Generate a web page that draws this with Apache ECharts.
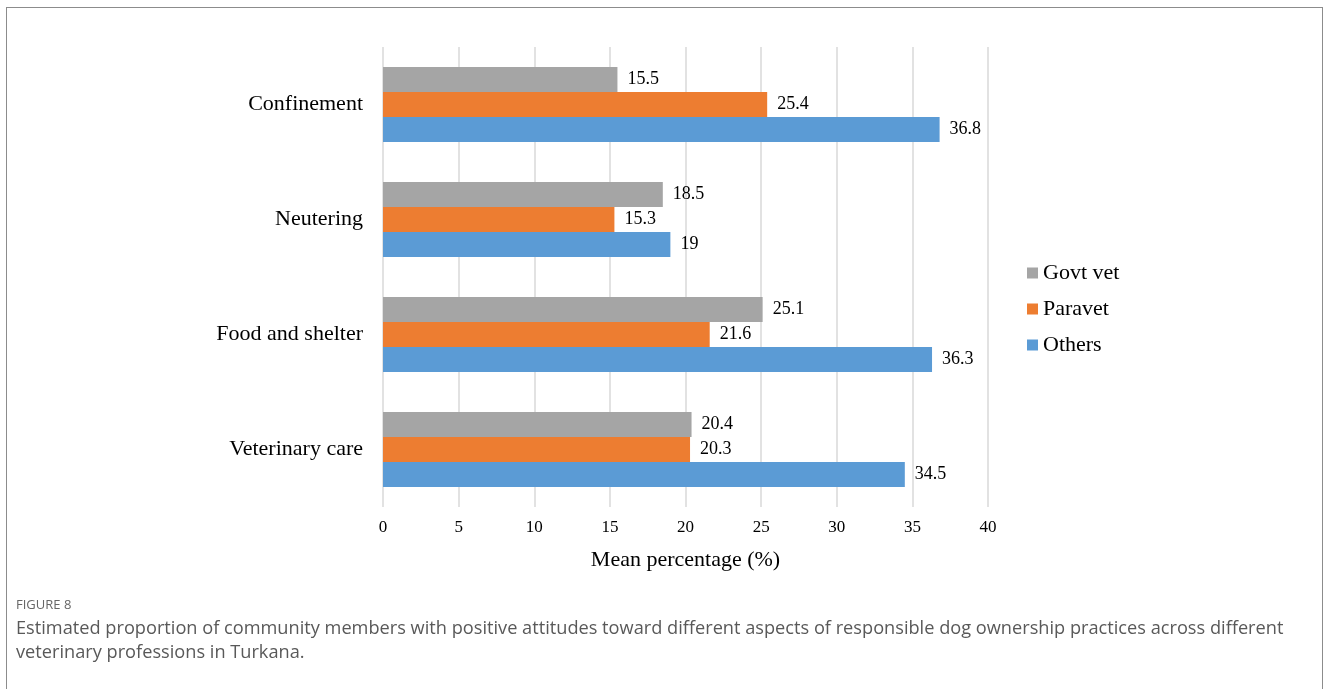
<!DOCTYPE html>
<html>
<head>
<meta charset="utf-8">
<script src="https://cdn.jsdelivr.net/npm/echarts@6/dist/echarts.min.js"></script>
<style>
  html, body { margin: 0; padding: 0; background: #fff; }
  #frame {
    position: absolute; left: 6px; top: 7px; width: 1317px; height: 690px;
    border: 1.5px solid #8c8c8c; border-bottom: none; box-sizing: border-box;
  }
  #chart { position: absolute; left: 0; top: 0; width: 1330px; height: 689px; }
</style>
</head>
<body>
<div id="frame"></div>
<div id="chart"></div>
<script>
// categories top to bottom
const categories = ['Confinement', 'Neutering', 'Food and shelter', 'Veterinary care']
const govtVet = [15.5, 18.5, 25.1, 20.4]
const paravet = [25.4, 15.3, 21.6, 20.3]
const others = [36.8, 19, 36.3, 34.5]
const seriesNames = ['Govt vet', 'Paravet', 'Others']
const colors = ['#a5a5a5', '#ed7d31', '#5b9bd5']

const serif = '"Liberation Serif", "Times New Roman", serif'

const myChart = echarts.init(document.getElementById('chart'))

const seriesList = [govtVet, paravet, others].map(function (vals, i) {
  return {
    name: seriesNames[i],
    type: 'bar',
    data: vals,
    barWidth: 25,
    barGap: '0%',
    itemStyle: { color: colors[i] },
    label: {
      show: true,
      position: 'right',
      distance: 10,
      fontFamily: serif,
      fontSize: 18,
      color: '#000'
    }
  }
})

const option = {
  animation: false,
  textStyle: { fontFamily: serif },
  grid: { left: 383, right: 342, top: 47, bottom: 182 },
  legend: {
    orient: 'vertical',
    left: 1022,
    top: 257,
    itemWidth: 11,
    itemHeight: 11,
    itemGap: 14,
    icon: 'rect',
    textStyle: { fontFamily: serif, fontSize: 22, color: '#000' },
    data: seriesNames
  },
  xAxis: {
    type: 'value',
    min: 0,
    max: 40,
    interval: 5,
    name: 'Mean percentage (%)',
    nameLocation: 'middle',
    nameGap: 42,
    nameTextStyle: { fontFamily: serif, fontSize: 22, color: '#000' },
    axisLine: { show: false },
    axisTick: { show: false },
    axisLabel: { fontFamily: serif, fontSize: 17, color: '#000', margin: 12 },
    splitLine: { show: true, lineStyle: { color: '#d9d9d9', width: 1.5 } }
  },
  yAxis: {
    type: 'category',
    inverse: true,
    data: categories,
    axisLine: { show: false },
    axisTick: { show: false },
    axisLabel: { fontFamily: serif, fontSize: 22, color: '#000', margin: 20 }
  },
  title: [
    {
      text: 'FIGURE 8',
      left: 11, top: 594,
      textStyle: { fontFamily: '"Open Sans", sans-serif', fontSize: 13, fontWeight: 'normal', color: '#666' }
    },
    {
      text: 'Estimated proportion of community members with positive attitudes toward different aspects of responsible dog ownership practices across different\nveterinary professions in Turkana.',
      left: 11, top: 612,
      textStyle: { fontFamily: '"Open Sans", sans-serif', fontSize: 18.2, fontWeight: 'normal', color: '#595959', lineHeight: 24 }
    }
  ],
  series: seriesList
}

myChart.setOption(option)
</script>
</body>
</html>
